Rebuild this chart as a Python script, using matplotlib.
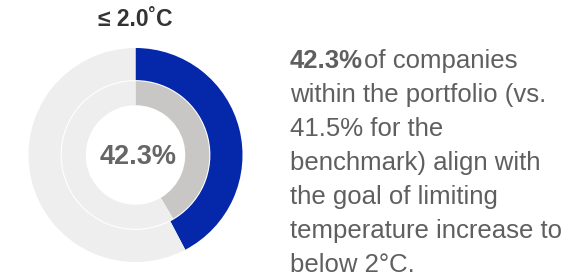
import matplotlib
matplotlib.use("Agg")
import matplotlib.pyplot as plt

#Chart values
title = "≤ 2.0˚C"
portfolio_share = 42.3
benchmark_share = 41.5
text_lines = ["within the portfolio (vs.",
              "41.5% for the",
              "benchmark) align with",
              "the goal of limiting",
              "temperature increase to",
              "below 2°C."]

blue = "#0527A9"
mid_grey = "#C8C7C6"
light_grey = "#EEEEEE"
text_grey = "#5F5F5F"

plt.rcParams["font.family"] = ["Liberation Sans", "DejaVu Sans"]

W, H = 588, 279
fig = plt.figure(figsize=(W / 100, H / 100), dpi=100)

#Donut axes: centre (135.5, 155) px, outer radius 107 px
cx, cy, r = 135.5, 155, 107
ax = fig.add_axes([(cx - r) / W, (H - cy - r) / H, 2 * r / W, 2 * r / H])

#Outer ring = portfolio, inner ring = benchmark
ax.pie([portfolio_share, 100 - portfolio_share], radius=1.0,
       colors=[blue, light_grey], startangle=90, counterclock=False,
       wedgeprops=dict(width=0.30, edgecolor="none"))
ax.pie([benchmark_share, 100 - benchmark_share], radius=0.69,
       colors=[mid_grey, light_grey], startangle=90, counterclock=False,
       wedgeprops=dict(width=0.225, edgecolor="none"))
ax.set_xlim(-1, 1)
ax.set_ylim(-1, 1)
ax.set_aspect("equal")
ax.axis("off")

ax.text(0.025, -0.02, f"{portfolio_share:.1f}%", ha="center", va="center",
        fontsize=19.5, fontweight="bold", color="#666666")

#Title above the donut
fig.text(cx / W, 1 - 19 / H, title, ha="center", va="center",
         fontsize=16.5, fontweight="bold", color="#333333")

#Description on the right
x0 = 290 / W
base0 = 67.7
step = 34
first = fig.text(x0, 1 - base0 / H, f"{portfolio_share:.1f}%", ha="left",
                 va="baseline", fontsize=18.5, fontweight="bold", color=text_grey)
plt.annotate("of companies", xy=(1, 0), xycoords=first, xytext=(1, 0),
             textcoords="offset points", ha="left", va="bottom",
             fontsize=18.5, color=text_grey, annotation_clip=False)
for i, line in enumerate(text_lines):
    fig.text(x0, 1 - (base0 + step * (i + 1)) / H, line, ha="left",
             va="baseline", fontsize=18.5, color=text_grey)

fig.savefig("out.png", dpi=100)
